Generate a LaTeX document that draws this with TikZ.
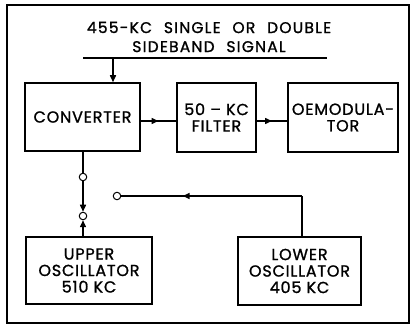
\documentclass[tikz,border=0pt]{standalone}
\usepackage{fontspec}
\setmainfont{Poppins}[LetterSpace=5,FakeBold=1.2]
\newfontfamily\titlefont{Poppins}[LetterSpace=8,WordSpace=2.2,FakeBold=1.2]
\usetikzlibrary{arrows.meta,decorations.markings}
\begin{document}
\begin{tikzpicture}[x=1pt,y=-1pt,
  blk/.style={draw,line width=1.5pt,inner sep=0pt,align=center,font=\fontsize{16}{16.5}\selectfont},
  sw/.style={circle,draw,line width=1pt,fill=white,inner sep=0pt,minimum size=7.5pt},
  wire/.style={line width=1.5pt},
  midarrow/.style={postaction={decorate},decoration={markings,mark=at position #1 with {\arrow{Triangle[length=7pt,width=6pt]}}}},
  tip/.style={-{Triangle[length=7pt,width=6pt]}}]
\useasboundingbox (0,0) rectangle (413,326);
\node[draw,line width=2pt,minimum width=402pt,minimum height=318pt,inner sep=0pt] (frame) at (208,164) {};
\node[font=\titlefont\fontsize{15.5}{19}\selectfont,align=center] (title) at (209,37) {455-KC SINGLE OR DOUBLE\\SIDEBAND SIGNAL};
\coordinate (in1) at (83,58);
\coordinate (in2) at (327,58);
\coordinate (inp) at (113,58);
\node[blk,minimum width=115pt,minimum height=68pt] (conv) at (82.5,117) {CONVERTER};
\node[blk,minimum width=79pt,minimum height=69pt] (filt) at (216.5,117.5) {50 – KC\\FILTER};
\node[blk,minimum width=110pt,minimum height=69pt] (demod) at (343,117.5) {OEMODULA-\\TOR};
\node[blk,minimum width=126pt,minimum height=67pt] (uosc) at (89,270.5) {UPPER\\OSCILLATOR\\510 KC};
\node[blk,minimum width=123pt,minimum height=68pt] (losc) at (299.5,271) {LOWER\\OSCILLATOR\\405 KC};
\coordinate (ar) at (0,121);
\node[sw] (s1) at (83,177) {};
\node[sw] (s2) at (83,216) {};
\node[sw] (s3) at (117,196) {};
\coordinate (lc) at (302,196);
\draw[wire] (in1) -- (in2);
\draw[wire,tip] (inp) -- (inp |- conv.north);
\draw[wire,midarrow=0.5] (conv.east |- ar) -- (filt.west |- ar);
\draw[wire,midarrow=0.5] (filt.east |- ar) -- (demod.west |- ar);
\draw[wire] (conv.south -| s1) -- (s1);
\draw[wire,tip] (s1) -- (s2);
\draw[wire,tip] (uosc.north -| s2) -- (s2);
\draw[wire] (losc.north -| lc) -- (lc);
\draw[wire,midarrow=0.66] (lc) -- (s3);
\end{tikzpicture}
\end{document}
